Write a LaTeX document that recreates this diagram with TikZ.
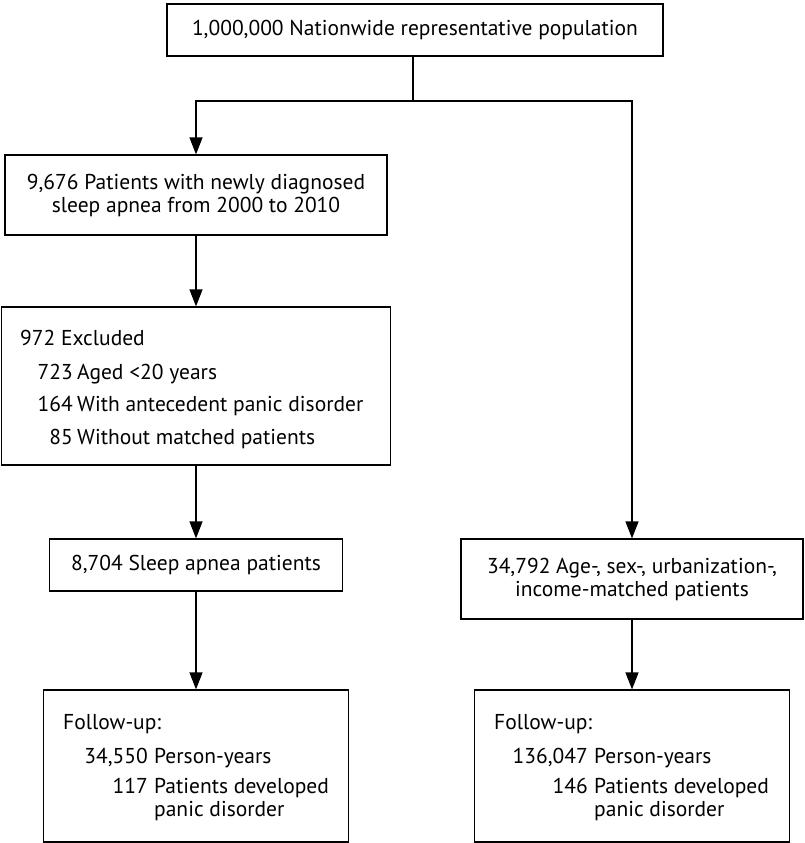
\documentclass[tikz,border=0pt]{standalone}
\usepackage{fontspec}
\setmainfont{PT Sans}
\usetikzlibrary{arrows.meta}

\begin{document}
\begin{tikzpicture}[x = 1pt, y = -1pt]
\tikzstyle{BoxStyle}=[shape = rectangle,
                      draw,
                      line width = 1.2pt,
                      inner sep = 0pt,
                      align = center,
                      font = \fontsize{21.5}{23}\selectfont]
\tikzstyle{TextStyle}=[inner sep = 0pt,
                       font = \fontsize{21.5}{23}\selectfont]
\tikzstyle{ArrowStyle}=[line width = 1.2pt,
                        -{Triangle[length = 17pt, width = 13pt]}]
\useasboundingbox (0, 0) rectangle (804, 843);
% boxes
\node[BoxStyle, minimum width = 496pt, minimum height = 52pt] (pop) at (415, 30) {1,000,000 Nationwide representative population};
\node[BoxStyle, minimum width = 382pt, minimum height = 80pt] (apnea) at (196, 195) {9,676 Patients with newly diagnosed\\sleep apnea from 2000 to 2010};
\node[BoxStyle, minimum width = 389pt, minimum height = 158pt] (excl) at (196, 386) {};
\node[BoxStyle, minimum width = 293pt, minimum height = 52pt] (sleep) at (196, 565) {8,704 Sleep apnea patients};
\node[BoxStyle, minimum width = 305pt, minimum height = 152pt] (fuA) at (196, 766) {};
\node[BoxStyle, minimum width = 342pt, minimum height = 80pt] (match) at (632, 579) {34,792 Age-, sex-, urbanization-,\\income-matched patients};
\node[BoxStyle, minimum width = 315pt, minimum height = 152pt] (fuB) at (632, 766) {};
% excluded list
\node[TextStyle, anchor = base west] (exc0) at (20, 345) {972 Excluded};
\node[TextStyle, anchor = base east] (exc1n) at (73, 379) {723};
\node[TextStyle, anchor = base west] (exc1) at (77, 379) {Aged <20 years};
\node[TextStyle, anchor = base east] (exc2n) at (73, 411) {164};
\node[TextStyle, anchor = base west] (exc2) at (77, 411) {With antecedent panic disorder};
\node[TextStyle, anchor = base east] (exc3n) at (73, 444) {85};
\node[TextStyle, anchor = base west] (exc3) at (77, 444) {Without matched patients};
% follow-up, apnea
\node[TextStyle, anchor = base west] (fuA0) at (63, 729) {Follow-up:};
\node[TextStyle, anchor = base east] (fuA1n) at (148, 763) {34,550};
\node[TextStyle, anchor = base west] (fuA1) at (154, 763) {Person-years};
\node[TextStyle, anchor = base east] (fuA2n) at (148, 793) {117};
\node[TextStyle, anchor = base west] (fuA2) at (154, 793) {Patients developed};
\node[TextStyle, anchor = base west] (fuA3) at (154, 816) {panic disorder};
% follow-up, matched
\node[TextStyle, anchor = base west] (fuB0) at (494, 729) {Follow-up:};
\node[TextStyle, anchor = base east] (fuB1n) at (588, 763) {136,047};
\node[TextStyle, anchor = base west] (fuB1) at (594, 763) {Person-years};
\node[TextStyle, anchor = base east] (fuB2n) at (588, 793) {146};
\node[TextStyle, anchor = base west] (fuB2) at (594, 793) {Patients developed};
\node[TextStyle, anchor = base west] (fuB3) at (594, 816) {panic disorder};
% connectors
\coordinate (split) at (413, 101);
\draw[line width = 1.2pt] (pop.south -| split) -- (split);
\draw[ArrowStyle] (split) -| (apnea.north);
\draw[ArrowStyle] (split) -| (match.north);
\draw[ArrowStyle] (apnea) -- (excl);
\draw[ArrowStyle] (excl) -- (sleep);
\draw[ArrowStyle] (sleep) -- (fuA);
\draw[ArrowStyle] (match) -- (fuB);
\end{tikzpicture}
\end{document}
